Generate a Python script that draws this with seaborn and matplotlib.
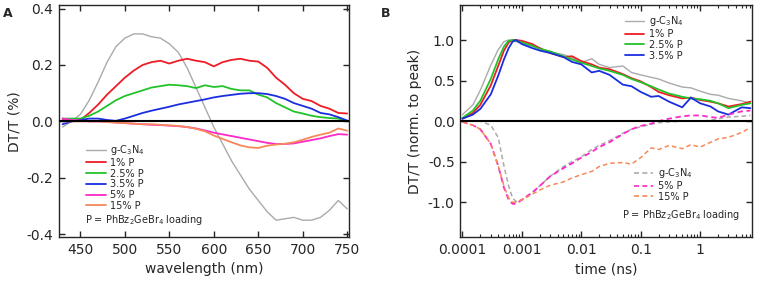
import matplotlib
matplotlib.use('Agg')
import matplotlib.pyplot as plt
import seaborn as sns
from matplotlib.lines import Line2D
from matplotlib.ticker import FixedLocator, FuncFormatter, LogLocator, NullFormatter

# ---- panel A: transient spectra ----
wavelength = [430, 440, 450, 460, 470, 480, 490, 500, 510, 520, 530, 540, 550, 560, 570, 580,
              590, 600, 610, 620, 630, 640, 650, 660, 670, 680, 690, 700, 710, 720, 730, 740, 750]
spec_gcn = [-0.02, 0.0, 0.025, 0.075, 0.14, 0.21, 0.265, 0.295, 0.31, 0.31, 0.30, 0.295, 0.275, 0.245,
            0.19, 0.12, 0.05, -0.02, -0.08, -0.14, -0.19, -0.24, -0.28, -0.32, -0.35, -0.345, -0.34,
            -0.35, -0.35, -0.34, -0.315, -0.28, -0.31]
spec_1 = [0.005, 0.0, 0.005, 0.03, 0.06, 0.095, 0.125, 0.155, 0.18, 0.2, 0.21, 0.215, 0.205, 0.215,
          0.222, 0.215, 0.21, 0.195, 0.21, 0.218, 0.222, 0.215, 0.212, 0.19, 0.155, 0.13, 0.1, 0.08,
          0.072, 0.055, 0.045, 0.03, 0.028]
spec_25 = [0.01, 0.01, 0.01, 0.02, 0.035, 0.055, 0.075, 0.09, 0.1, 0.11, 0.12, 0.125, 0.13, 0.128,
           0.125, 0.118, 0.128, 0.122, 0.125, 0.115, 0.11, 0.11, 0.095, 0.085, 0.065, 0.05, 0.035,
           0.028, 0.02, 0.015, 0.012, 0.01, 0.0]
spec_35 = [-0.01, 0.0, 0.005, 0.01, 0.01, 0.005, 0.002, 0.01, 0.02, 0.03, 0.038, 0.045, 0.052, 0.06,
           0.066, 0.072, 0.078, 0.085, 0.09, 0.094, 0.098, 0.1, 0.1, 0.097, 0.09, 0.08, 0.065, 0.055,
           0.045, 0.03, 0.025, 0.015, 0.003]
spec_5 = [0.01, 0.005, 0.003, 0.0, 0.0, -0.002, -0.004, -0.006, -0.008, -0.01, -0.012, -0.013, -0.015,
          -0.017, -0.02, -0.025, -0.032, -0.04, -0.046, -0.052, -0.058, -0.064, -0.07, -0.076, -0.08,
          -0.08, -0.078, -0.072, -0.066, -0.06, -0.052, -0.045, -0.047]
spec_15 = [0.0, 0.0, 0.0, 0.0, 0.0, -0.002, -0.004, -0.006, -0.008, -0.01, -0.01, -0.012, -0.014,
           -0.016, -0.02, -0.026, -0.035, -0.05, -0.062, -0.074, -0.085, -0.092, -0.094, -0.086,
           -0.082, -0.079, -0.074, -0.065, -0.055, -0.047, -0.04, -0.025, -0.033]

# ---- panel B: normalised kinetics ----
time_ns = [0.0001, 0.00015, 0.0002, 0.0003, 0.0004, 0.0005, 0.0006, 0.0007, 0.0008, 0.001, 0.0015,
           0.002, 0.003, 0.005, 0.007, 0.01, 0.015, 0.02, 0.03, 0.05, 0.07, 0.1, 0.15, 0.2, 0.3,
           0.5, 0.7, 1, 1.5, 2, 3, 5, 7]
kin_gcn = [0.08, 0.2, 0.38, 0.69, 0.88, 0.98, 1.0, 0.99, 0.98, 0.96, 0.92, 0.9, 0.85, 0.82, 0.78,
           0.72, 0.77, 0.7, 0.66, 0.68, 0.6, 0.57, 0.54, 0.52, 0.47, 0.42, 0.41, 0.37, 0.33, 0.32,
           0.28, 0.25, 0.22]
kin_1 = [0.03, 0.1, 0.2, 0.44, 0.68, 0.87, 0.97, 1.0, 1.0, 0.99, 0.95, 0.9, 0.84, 0.79, 0.8, 0.74,
         0.7, 0.66, 0.64, 0.58, 0.53, 0.49, 0.42, 0.36, 0.32, 0.28, 0.29, 0.26, 0.24, 0.22, 0.18,
         0.21, 0.24]
kin_25 = [0.04, 0.13, 0.25, 0.52, 0.76, 0.92, 0.99, 1.0, 0.99, 0.97, 0.93, 0.89, 0.86, 0.8, 0.76,
          0.72, 0.68, 0.65, 0.62, 0.57, 0.52, 0.48, 0.43, 0.39, 0.34, 0.3, 0.28, 0.27, 0.25, 0.22,
          0.16, 0.2, 0.22]
kin_35 = [0.03, 0.08, 0.15, 0.33, 0.56, 0.76, 0.9, 0.98, 1.0, 0.95, 0.9, 0.87, 0.84, 0.79, 0.73,
          0.7, 0.6, 0.62, 0.57, 0.45, 0.43, 0.36, 0.3, 0.31, 0.24, 0.17, 0.29, 0.22, 0.18, 0.12,
          0.08, 0.17, 0.16]
kin_gcn_neg = [0.0, 0.0, 0.0, -0.05, -0.2, -0.55, -0.8, -0.95, -0.99, -0.97, -0.88, -0.8, -0.68,
               -0.56, -0.5, -0.44, -0.35, -0.3, -0.24, -0.15, -0.1, -0.07, -0.04, -0.02, -0.01,
               0.0, 0.0, 0.0, 0.01, 0.03, 0.05, 0.06, 0.07]
kin_5 = [-0.01, -0.05, -0.1, -0.28, -0.55, -0.82, -0.97, -1.02, -1.02, -0.97, -0.88, -0.8, -0.68,
         -0.58, -0.52, -0.45, -0.38, -0.32, -0.26, -0.16, -0.1, -0.06, -0.03, 0.0, 0.03, 0.06,
         0.07, 0.07, 0.05, 0.04, 0.08, 0.12, 0.13]
kin_15 = [-0.01, -0.05, -0.1, -0.28, -0.55, -0.8, -0.95, -1.0, -1.0, -0.97, -0.9, -0.85, -0.79,
          -0.75, -0.7, -0.66, -0.62, -0.56, -0.52, -0.51, -0.53, -0.45, -0.33, -0.35, -0.3, -0.34,
          -0.29, -0.32, -0.26, -0.22, -0.2, -0.14, -0.08]

labels = ['g-C$_3$N$_4$', '1% P', '2.5% P', '3.5% P', '5% P', '15% P']
colors = {'gcn': '#aaaaaa', '1': '#ee1c25', '2.5': '#22c32a', '3.5': '#1a2ee0',
          '5': '#ff28c8', '15': '#f5895a'}
note = 'P = PhBz$_2$GeBr$_4$ loading'

sns.set_style('ticks')
plt.rcParams['font.family'] = ['DejaVu Sans']
plt.rcParams['axes.unicode_minus'] = False
plt.rcParams['axes.linewidth'] = 1.0

fig = plt.figure(figsize=(7.57, 2.85), dpi=100)
axA = fig.add_axes([0.078, 0.168, 0.383, 0.814])
axB = fig.add_axes([0.608, 0.168, 0.386, 0.814])

leg_kw = dict(frameon=False, fontsize=7, handlelength=2.0, handletextpad=0.5,
              labelspacing=0.08, borderpad=0.2)

# panel A
series_a = [(spec_gcn, 'gcn', 1.0), (spec_1, '1', 1.3), (spec_25, '2.5', 1.3),
            (spec_35, '3.5', 1.3), (spec_5, '5', 1.3), (spec_15, '15', 1.3)]
for vals, key, lw in series_a:
    sns.lineplot(x=wavelength, y=vals, ax=axA, color=colors[key], lw=lw)
axA.axhline(0, color='black', lw=1.5, zorder=5)
axA.set_xlim(426, 752)
axA.set_ylim(-0.41, 0.412)
axA.set_xticks([450, 500, 550, 600, 650, 700, 750])
axA.set_yticks([-0.4, -0.2, 0.0, 0.2, 0.4])
axA.yaxis.set_major_formatter(FuncFormatter(lambda v, p: f'{v:.1f}'))
axA.set_xlabel('wavelength (nm)', fontsize=10)
axA.set_ylabel('DT/T (%)', fontsize=10)

handles_a = [Line2D([], [], color=colors[k], lw=lw) for _, k, lw in series_a]
axA.legend(handles_a, labels, loc='upper left', bbox_to_anchor=(0.07, 0.435), **leg_kw)
axA.text(0.09, 0.075, note, transform=axA.transAxes, fontsize=7, va='center', ha='left')

# panel B
for vals, key in [(kin_gcn, 'gcn'), (kin_1, '1'), (kin_25, '2.5'), (kin_35, '3.5')]:
    sns.lineplot(x=time_ns, y=vals, ax=axB, color=colors[key], lw=1.0 if key == 'gcn' else 1.3)
for vals, key in [(kin_gcn_neg, 'gcn'), (kin_5, '5'), (kin_15, '15')]:
    sns.lineplot(x=time_ns, y=vals, ax=axB, color=colors[key], lw=1.3 if key == '5' else 1.1,
                 linestyle=(0, (3, 2)))
axB.axhline(0, color='black', lw=1.5, zorder=5)
axB.set_xscale('log')
axB.set_xlim(9.2e-5, 7.6)
axB.set_ylim(-1.43, 1.43)
axB.xaxis.set_major_locator(FixedLocator([1e-4, 1e-3, 1e-2, 1e-1, 1]))
axB.xaxis.set_major_formatter(FuncFormatter(lambda v, p: f'{v:g}'))
axB.xaxis.set_minor_locator(LogLocator(base=10, subs=range(2, 10), numticks=20))
axB.xaxis.set_minor_formatter(NullFormatter())
axB.set_yticks([-1.0, -0.5, 0.0, 0.5, 1.0])
axB.yaxis.set_major_formatter(FuncFormatter(lambda v, p: f'{v:.1f}'))
axB.set_xlabel('time (ns)', fontsize=10)
axB.set_ylabel('DT/T (norm. to peak)', fontsize=10)

handles_b1 = [Line2D([], [], color=colors[k], lw=1.0 if k == 'gcn' else 1.3)
              for k in ['gcn', '1', '2.5', '3.5']]
legB1 = axB.legend(handles_b1, labels[:4], loc='upper left', bbox_to_anchor=(0.54, 0.99),
                   **leg_kw)
axB.add_artist(legB1)
handles_b2 = [Line2D([], [], color=colors[k], lw=1.2, linestyle=(0, (3, 2)))
              for k in ['gcn', '5', '15']]
axB.legend(handles_b2, [labels[0], labels[4], labels[5]], loc='upper left',
           bbox_to_anchor=(0.57, 0.335), **leg_kw)
axB.text(0.555, 0.095, note, transform=axB.transAxes, fontsize=7, va='center', ha='left')

for ax in (axA, axB):
    ax.tick_params(axis='both', which='major', direction='in', top=True, right=True,
                   length=4.5, width=1.0, labelsize=10, pad=4)
    ax.tick_params(axis='both', which='minor', direction='in', top=True, right=True,
                   length=2.5, width=0.8)

fig.text(0.004, 0.975, 'A', fontsize=9, fontweight='bold', va='top')
fig.text(0.503, 0.975, 'B', fontsize=9, fontweight='bold', va='top')

fig.savefig('out.png', dpi=100)
